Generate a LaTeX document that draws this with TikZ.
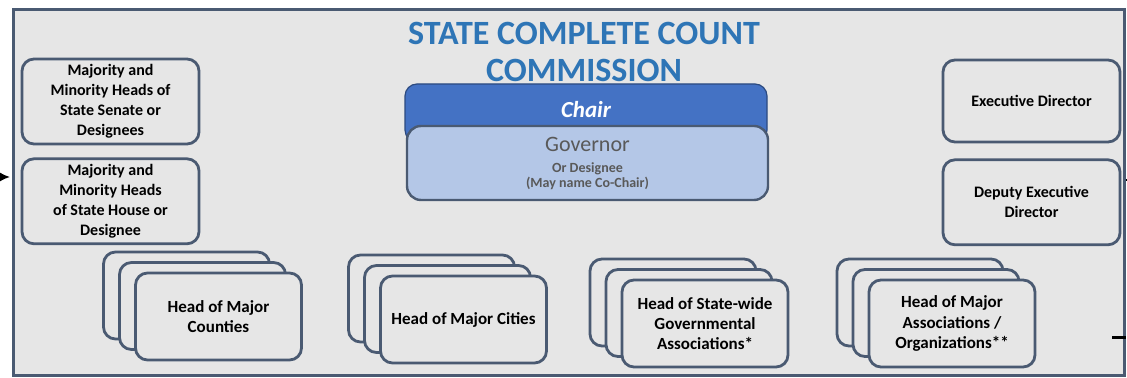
\documentclass[tikz,border=0pt]{standalone}
\usepackage{fontspec}
\setmainfont{Carlito}
\usetikzlibrary{shapes,arrows.meta,positioning}
\definecolor{slate}{HTML}{4A5A72}
\definecolor{panel}{HTML}{E6E6E6}
\definecolor{titleblue}{HTML}{2E75B6}
\definecolor{chairblue}{HTML}{4472C4}
\definecolor{govblue}{HTML}{B4C7E7}
\definecolor{govtext}{HTML}{595959}

\begin{document}
\begin{tikzpicture}[x=0.5pt,y=-0.5pt,
     member/.style={draw=slate,line width=1.4pt,rounded corners=6pt,fill=panel,
        minimum width=88.5pt,minimum height=42.5pt,align=center,inner sep=2pt,
        font=\fontsize{8}{10}\selectfont\bfseries},
     card/.style={member,minimum width=83pt,minimum height=43.5pt,
        font=\fontsize{8.5}{10.2}\selectfont\bfseries}
     ]
\useasboundingbox (0,0) rectangle (1127,378);

%Outer commission frame
\node[draw=slate,line width=1.5pt,fill=panel,minimum width=555.5pt,
      minimum height=182.75pt,inner sep=0] (commission) at (569,192.75) {};

%Title
\node[font=\fontsize{17}{18.5}\selectfont\bfseries,text=titleblue,align=center]
   (title) at (584,52) {STATE COMPLETE COUNT\\COMMISSION};

%Chair and Governor
\node[draw=chairblue!65!black,line width=0.6pt,fill=chairblue,rounded corners=6pt,
      minimum width=181pt,minimum height=29pt,inner sep=0] (chair) at (586,113) {};
\node[text=white,font=\fontsize{11.5}{13}\selectfont\bfseries\itshape]
   (chairlbl) at (586,110) {Chair};
\node[draw=slate,line width=1.2pt,fill=govblue,rounded corners=7pt,
      minimum width=180.5pt,minimum height=37pt,inner sep=0,align=center,text=govtext,
      font=\fontsize{7}{7.5}\selectfont\bfseries]
   (governor) at (587.5,163)
   {{\fontsize{11}{12}\selectfont\mdseries Governor}\\[3pt]Or Designee\\(May name Co-Chair)};

%Legislature heads on the left
\node[member] (senate) at (110.5,101.5) {Majority and\\Minority Heads of\\State Senate or\\Designees};
\node[member,below=6pt of senate] (house) {Majority and\\Minority Heads\\of State House or\\Designee};

%Staff on the right
\node[member,minimum height=41pt] (execdir) at (1031.5,101) {Executive Director};
\node[member,below=7.5pt of execdir] (deputy) {Deputy Executive\\Director};

%Stacked cards of members
\foreach [count=\i] \cx/\cy/\nm/\txt in
   {218.5/316.5/counties/{Head of Major\\Counties},
    463.5/319.5/cities/{Head of Major Cities},
    705/323.5/statewide/{Head of State-wide\\Governmental\\Associations*},
    952/323.5/majorassoc/{Head of Major\\Associations /\\Organizations**}}
   {
\node[card] (\nm-b) at (\cx-32,\cy-21) {};
\node[card] (\nm-m) at (\cx-16,\cy-10.5) {};
\node[card] (\nm) at (\cx,\cy) {\txt};
   }

%Stubs of outside connectors
\coordinate (feedL) at (0,177);
\coordinate (outR) at (1127,180);
\coordinate (stubB) at (1112,338);
\draw[line width=0.8pt,-{Latex[length=5pt,width=4.5pt]},shorten >=1pt]
   (feedL) -- (commission.west |- feedL);
\draw[line width=1pt] (commission.east |- outR) -- (outR);
\draw[line width=1.5pt] (stubB) -- (commission.east |- stubB);
\end{tikzpicture}
\end{document}
